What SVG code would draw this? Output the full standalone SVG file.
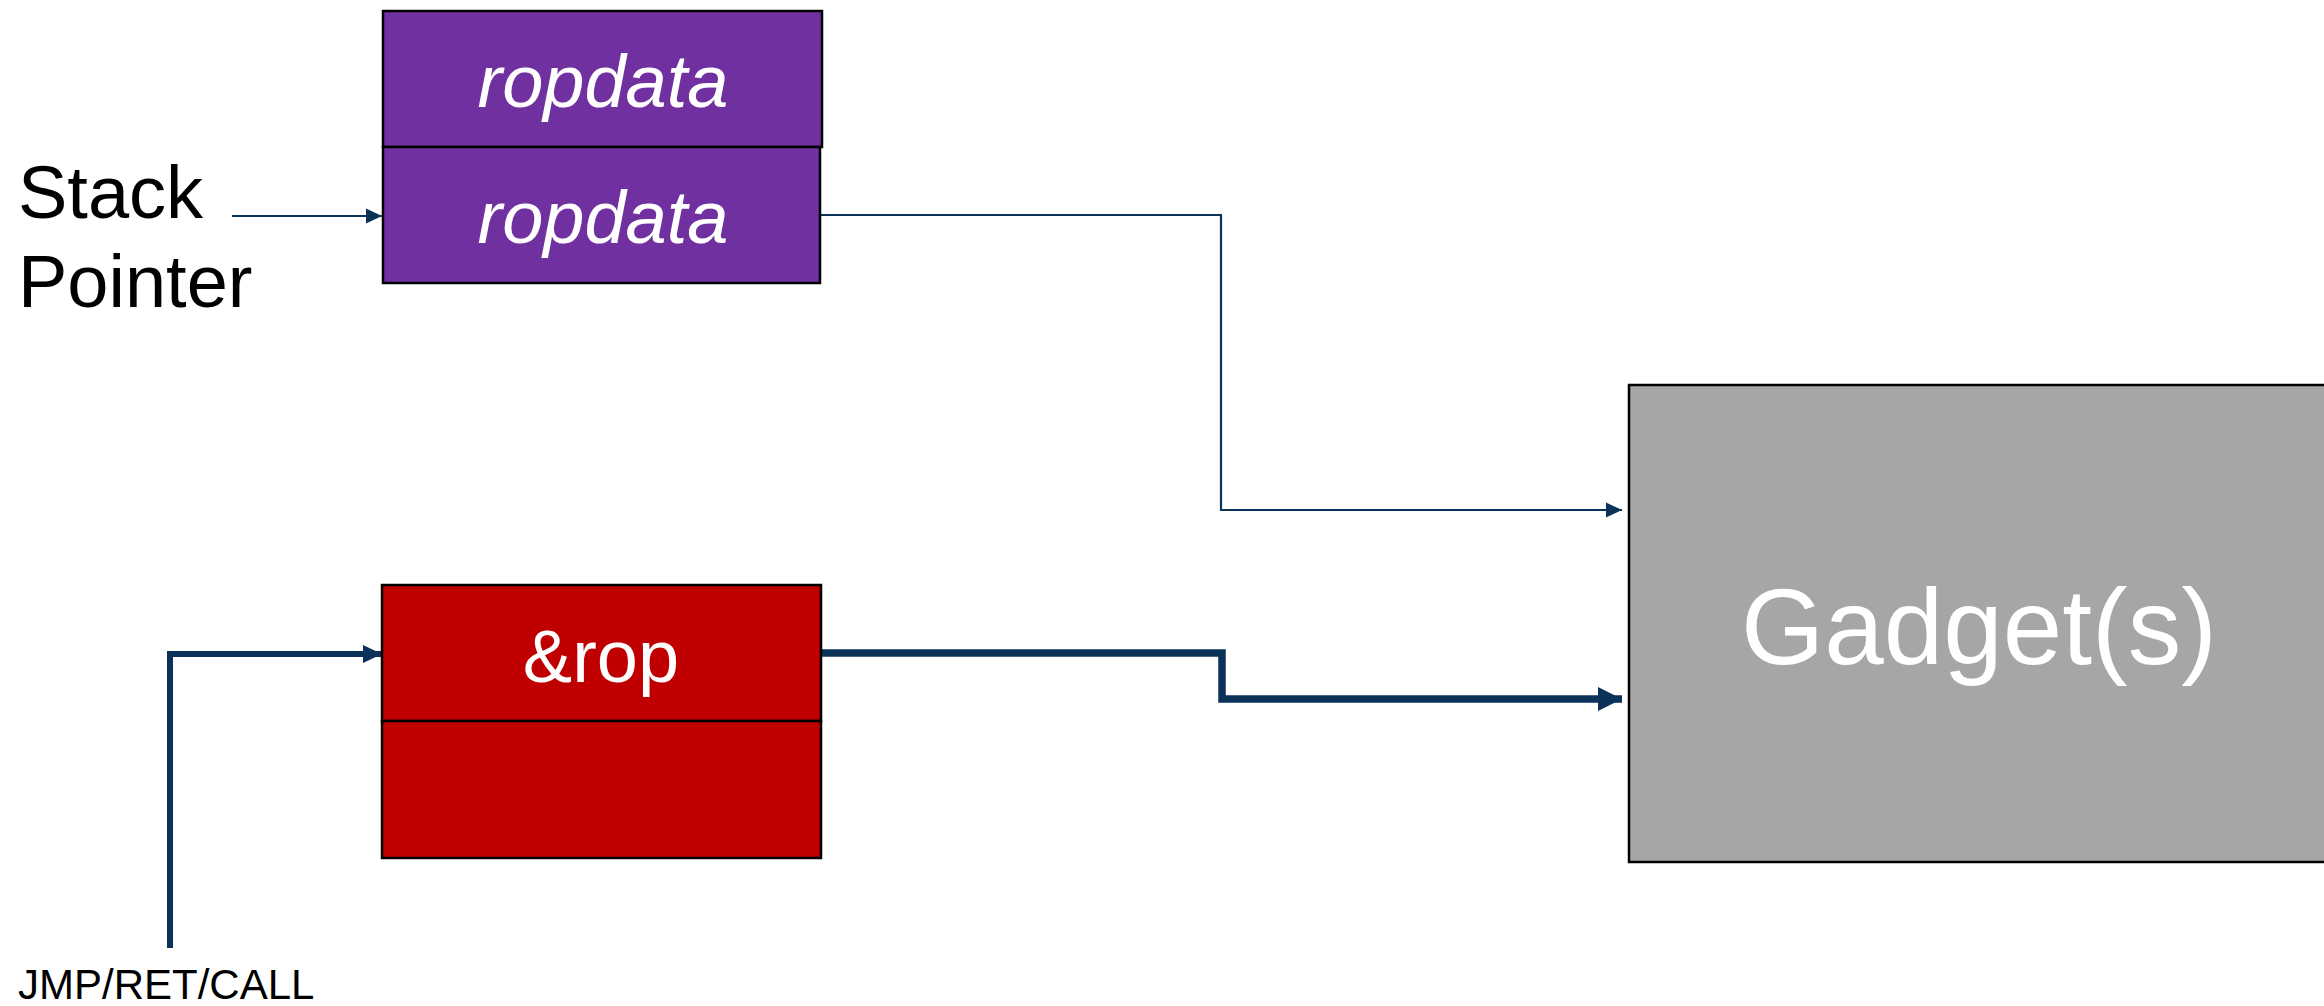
<svg xmlns="http://www.w3.org/2000/svg" width="2324" height="1006" viewBox="0 0 2324 1006">
  <style>
    .box { stroke: #000; stroke-width: 2.5; }
    .purple { fill: #7030A0; }
    .red { fill: #C00000; }
    .gray { fill: #A6A6A6; }
    .lbl { font-family: "Liberation Sans", Arial, sans-serif; fill: #fff; text-anchor: middle; }
    .blk { font-family: "Liberation Sans", Arial, sans-serif; fill: #000; }
    .conn { fill: none; stroke: #0B335A; stroke-linejoin: miter; }
  </style>
  <defs>
    <marker id="arrThin" markerUnits="userSpaceOnUse" markerWidth="16" markerHeight="16" refX="16" refY="8" orient="auto">
      <polygon points="0,0.5 16,8 0,15.5" fill="#0B335A"/>
    </marker>
    <marker id="arrMed" markerUnits="userSpaceOnUse" markerWidth="19" markerHeight="18" refX="19" refY="9" orient="auto">
      <polygon points="0,0 19,9 0,18" fill="#0B335A"/>
    </marker>
    <marker id="arrThick" markerUnits="userSpaceOnUse" markerWidth="24" markerHeight="24" refX="24" refY="12" orient="auto">
      <polygon points="0,0 24,12 0,24" fill="#0B335A"/>
    </marker>
  </defs>
  <rect width="2324" height="1006" fill="#fff"/>

  <g id="connectors">
    <path class="conn" d="M232,216 H382" stroke-width="2" marker-end="url(#arrThin)"/>
    <path class="conn" d="M821,215 H1221 V510 H1622" stroke-width="2.2" marker-end="url(#arrThin)"/>
    <path class="conn" d="M170,948 V654 H382" stroke-width="6" marker-end="url(#arrMed)"/>
    <path class="conn" d="M821,653 H1222 V699 H1622" stroke-width="7.5" marker-end="url(#arrThick)"/>
  </g>

  <g id="stack-pointer-label">
    <text class="blk" x="18" y="218" font-size="74">Stack</text>
    <text class="blk" x="18" y="307" font-size="74">Pointer</text>
  </g>

  <g id="ropdata-1">
    <rect class="box purple" x="383" y="11" width="439" height="136"/>
    <text class="lbl" x="603" y="107" font-size="74" font-style="italic">ropdata</text>
  </g>
  <g id="ropdata-2">
    <rect class="box purple" x="383" y="147" width="437" height="136"/>
    <text class="lbl" x="603" y="243" font-size="74" font-style="italic">ropdata</text>
  </g>

  <g id="rop">
    <rect class="box red" x="382" y="585" width="439" height="136"/>
    <text class="lbl" x="601" y="682" font-size="74">&amp;rop</text>
  </g>
  <g id="rop-empty">
    <rect class="box red" x="382" y="721" width="439" height="137"/>
  </g>

  <g id="gadgets">
    <rect class="box gray" x="1629" y="385" width="720" height="477"/>
    <text class="lbl" x="1979" y="664" font-size="107">Gadget(s)</text>
  </g>

  <g id="jmp-label">
    <text class="blk" x="18" y="999" font-size="42">JMP/RET/CALL</text>
  </g>
</svg>
